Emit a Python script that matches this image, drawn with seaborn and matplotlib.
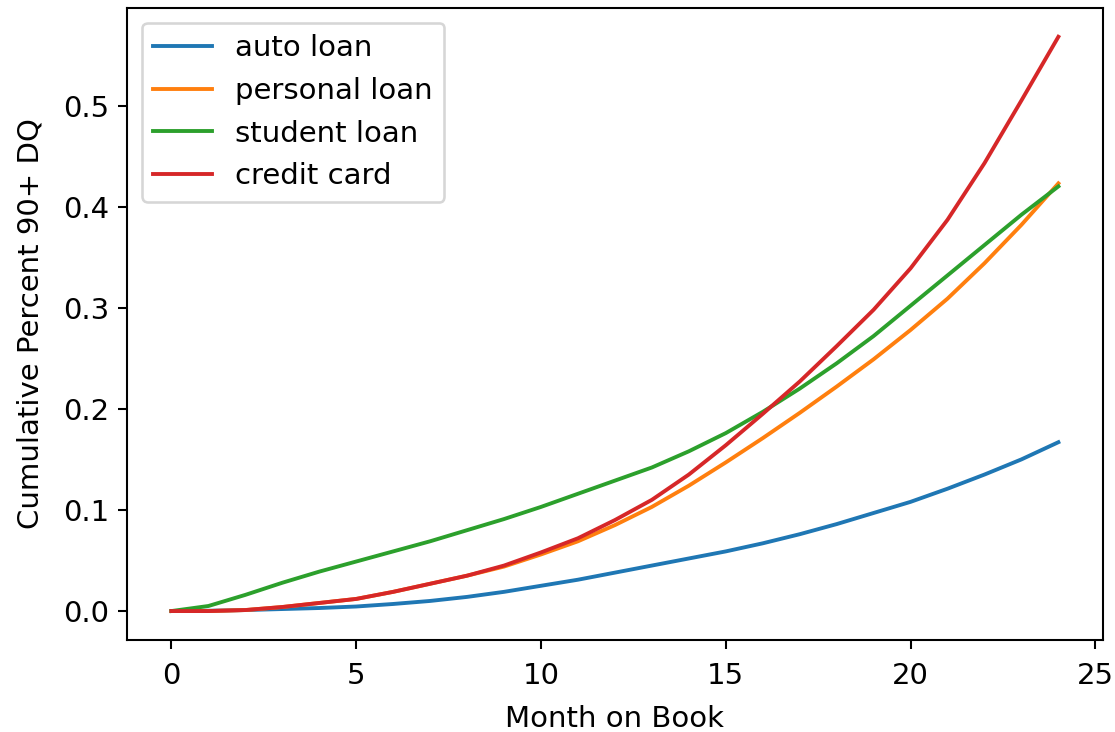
import matplotlib
matplotlib.use("Agg")
import matplotlib.pyplot as plt
import seaborn as sns
import pandas as pd

months = list(range(25))

auto_loan = [0.000, 0.0003, 0.001, 0.002, 0.003, 0.0045, 0.007, 0.010, 0.014, 0.019,
             0.025, 0.031, 0.038, 0.045, 0.052, 0.059, 0.067, 0.076, 0.086, 0.097,
             0.108, 0.121, 0.135, 0.150, 0.167]
personal_loan = [0.000, 0.000, 0.001, 0.004, 0.008, 0.012, 0.019, 0.027, 0.035, 0.044,
                 0.056, 0.069, 0.085, 0.103, 0.124, 0.147, 0.171, 0.196, 0.222, 0.249,
                 0.278, 0.309, 0.344, 0.382, 0.423]
student_loan = [0.000, 0.005, 0.016, 0.028, 0.039, 0.049, 0.059, 0.069, 0.080, 0.091,
                0.103, 0.116, 0.129, 0.142, 0.158, 0.176, 0.197, 0.220, 0.245, 0.272,
                0.302, 0.332, 0.362, 0.392, 0.420]
credit_card = [0.000, 0.000, 0.001, 0.004, 0.008, 0.012, 0.019, 0.027, 0.035, 0.045,
               0.058, 0.072, 0.090, 0.110, 0.135, 0.164, 0.195, 0.227, 0.262, 0.298,
               0.339, 0.387, 0.443, 0.505, 0.568]

series_names = ["auto loan", "personal loan", "student loan", "credit card"]
series_values = [auto_loan, personal_loan, student_loan, credit_card]

frames = []
for name, vals in zip(series_names, series_values):
    frames.append(pd.DataFrame({"Month on Book": months,
                                "Cumulative Percent 90+ DQ": vals,
                                "product": name}))
df = pd.concat(frames, ignore_index=True)

plt.rcParams["font.size"] = 11.3

dpi = 186
fig, ax = plt.subplots(figsize=(1115 / dpi, 732 / dpi), dpi=dpi)
fig.subplots_adjust(left=0.114, right=0.989, bottom=0.126, top=0.989)

palette = sns.color_palette("tab10", 4)
for name, color in zip(series_names, palette):
    sub = df[df["product"] == name]
    sns.lineplot(data=sub, x="Month on Book", y="Cumulative Percent 90+ DQ",
                 color=color, label=name, ax=ax)

ax.set_xticks([0, 5, 10, 15, 20, 25])
ax.set_yticks([0.0, 0.1, 0.2, 0.3, 0.4, 0.5])
ax.tick_params(axis="x", pad=5)
ax.set_xlabel("Month on Book", labelpad=6)
ax.set_ylabel("Cumulative Percent 90+ DQ", labelpad=7)
ax.legend(loc="upper left")

fig.savefig("out.png", dpi=dpi)
